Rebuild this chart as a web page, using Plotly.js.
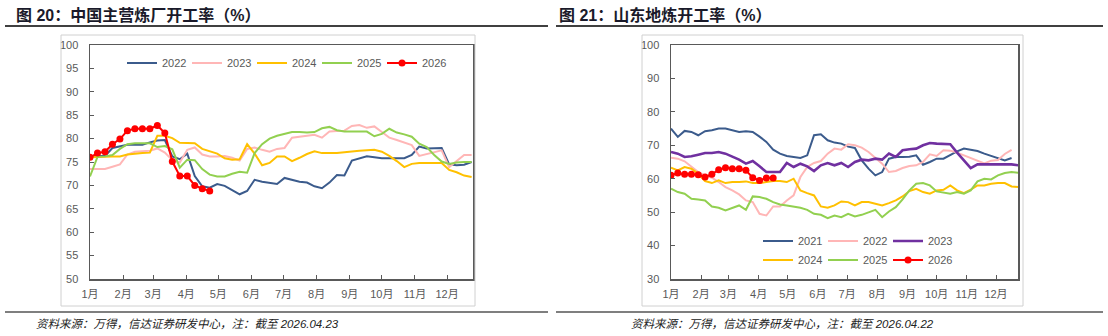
<!DOCTYPE html>
<html>
<head>
<meta charset="utf-8">
<script src="https://cdn.plot.ly/plotly-3.0.1.min.js"></script>
<style>
  html, body { margin: 0; padding: 0; background: #ffffff; }
  #chart { width: 1108px; height: 336px; }
</style>
</head>
<body>
<div id="chart"></div>
<script>
// Month tick positions (day of year) and labels
const monthStartDays = [1, 32, 60, 91, 121, 152, 182, 213, 244, 274, 305, 335];
const monthLabels = ['1月', '2月', '3月', '4月', '5月', '6月', '7月', '8月', '9月', '10月', '11月', '12月'];

// 中国主营炼厂开工率 (%), weekly
const nationalYears = ['2022', '2023', '2024', '2025', '2026'];
const national2022 = [76.3, 76.3, 76.3, 78.0, 78.4, 78.7, 78.7, 78.7, 79.2, 79.6, 79.7, 76.2, 75.6, 76.8, 72.0, 69.8,
  69.5, 70.3, 69.9, 69.0, 68.1, 68.8, 71.2, 70.8, 70.5, 70.3, 71.6, 71.2, 70.8, 70.6, 69.8, 69.4, 70.6, 72.2, 72.1, 75.3,
  75.8, 76.2, 76.0, 75.8, 75.8, 75.8, 75.8, 76.5, 78.3, 77.9, 78.0, 78.0, 74.5, 74.3, 74.4, 75.0];
const national2023 = [73.5, 73.5, 73.5, 74.0, 74.5, 76.6, 77.2, 77.3, 77.4, 77.9, 77.0, 75.4, 74.9, 77.6, 78.1, 76.6,
  76.2, 76.2, 76.3, 75.9, 75.3, 77.8, 78.1, 77.6, 77.2, 77.8, 78.0, 80.2, 80.4, 80.7, 80.8, 80.2, 81.5, 81.6, 81.7, 82.7,
  82.9, 82.3, 82.6, 81.4, 80.2, 79.7, 79.2, 78.6, 76.3, 76.7, 77.2, 77.5, 73.9, 75.2, 76.5, 76.5];
const national2024 = [76.0, 76.0, 76.1, 76.2, 76.2, 76.6, 76.8, 76.9, 77.0, 80.6, 80.6, 80.1, 79.1, 79.0, 79.0, 77.8,
  77.3, 76.8, 75.8, 75.5, 75.6, 78.8, 76.8, 74.3, 74.8, 76.2, 76.2, 75.2, 75.9, 76.7, 77.3, 76.9, 76.9, 76.9, 77.1, 77.3,
  77.4, 77.5, 77.6, 77.2, 76.3, 75.2, 73.9, 74.6, 74.8, 74.8, 74.8, 74.8, 73.3, 72.8, 72.1, 71.8];
const national2025 = [71.9, 76.1, 76.2, 76.5, 77.8, 78.8, 79.0, 79.0, 79.0, 78.2, 78.4, 77.7, 73.8, 75.5, 75.4, 73.5,
  72.3, 71.9, 71.9, 72.5, 72.9, 72.7, 76.9, 78.8, 80.0, 80.6, 81.0, 81.4, 81.4, 81.3, 81.4, 82.2, 82.5, 81.8, 81.5, 81.5,
  81.6, 81.5, 80.5, 81.0, 82.1, 81.3, 80.9, 80.4, 78.9, 78.2, 76.5, 75.1, 74.6, 74.9, 75.0, 75.0];
const national2026 = [76.0, 76.9, 77.2, 78.8, 79.9, 81.7, 82.1, 82.1, 82.1, 82.8, 81.2, 75.1, 72.0, 72.0, 70.0, 69.3, 68.8];

// 山东地炼开工率 (%), weekly
const shandongYears = ['2021', '2022', '2023', '2024', '2025', '2026'];
const shandong2021 = [75.0, 72.5, 74.3, 74.0, 73.0, 74.2, 74.5, 75.0, 75.0, 74.6, 74.0, 74.2, 74.0, 72.6, 71.0, 68.7,
  67.5, 66.8, 66.5, 66.2, 67.0, 73.0, 73.3, 71.5, 70.8, 70.5, 69.6, 69.2, 65.5, 63.0, 61.0, 62.0, 66.0, 66.5, 66.5, 66.6,
  67.0, 64.2, 65.0, 66.0, 66.0, 67.2, 68.2, 69.0, 68.7, 68.3, 67.5, 66.8, 66.2, 65.5, 66.2];
const shandong2022 = [66.3, 66.0, 65.2, 63.5, 62.0, 61.0, 60.3, 59.0, 57.5, 56.5, 55.3, 53.5, 53.0, 49.5, 49.0, 51.7,
  51.7, 53.5, 55.0, 60.5, 63.5, 64.7, 65.3, 67.5, 69.0, 68.7, 70.3, 70.0, 69.3, 68.0, 66.3, 64.5, 62.0, 62.3, 63.2, 63.8,
  64.0, 65.0, 67.3, 66.8, 68.5, 68.4, 67.8, 67.0, 66.2, 65.3, 64.6, 65.4, 65.6, 67.4, 68.6];
const shandong2023 = [68.0, 67.5, 66.5, 66.7, 67.2, 67.7, 67.7, 68.0, 67.5, 66.7, 65.7, 64.5, 65.3, 63.7, 62.0, 62.0,
  62.0, 64.7, 63.5, 64.5, 63.7, 62.3, 64.0, 64.7, 64.0, 64.7, 63.5, 65.0, 65.7, 65.5, 66.0, 65.7, 67.5, 66.5, 68.5, 68.8,
  69.0, 70.0, 70.7, 70.5, 70.5, 70.3, 67.8, 65.5, 63.2, 64.3, 64.3, 64.3, 64.3, 64.3, 64.3, 64.0];
const shandong2024 = [63.3, 62.5, 63.5, 63.0, 61.5, 59.3, 58.7, 59.5, 58.7, 59.0, 59.0, 59.2, 58.7, 58.7, 59.0, 59.3,
  59.3, 59.0, 60.0, 56.5, 55.7, 55.0, 51.7, 51.3, 52.0, 53.2, 53.0, 52.0, 53.0, 53.0, 52.5, 52.0, 52.7, 53.5, 54.7, 56.3,
  57.0, 56.0, 55.5, 56.5, 56.7, 58.0, 56.5, 55.7, 56.7, 58.0, 58.0, 58.5, 58.7, 58.7, 57.7, 57.5];
const shandong2025 = [57.0, 56.0, 55.5, 54.0, 53.8, 53.5, 51.7, 51.3, 50.5, 51.3, 52.0, 50.7, 54.7, 54.5, 54.0, 53.0,
  52.3, 52.0, 51.7, 51.3, 50.7, 49.5, 49.2, 48.2, 49.0, 48.5, 49.5, 48.7, 49.2, 50.0, 50.7, 48.5, 50.2, 51.5, 53.8, 56.5,
  58.5, 58.7, 58.0, 56.2, 55.8, 55.5, 56.0, 55.5, 56.5, 59.2, 60.0, 59.8, 61.0, 61.7, 62.0, 61.8];
const shandong2026 = [61.0, 61.7, 61.3, 61.3, 61.2, 60.5, 61.3, 62.7, 63.3, 63.0, 63.0, 62.5, 60.3, 59.5, 60.2, 60.2];

// Series colours by year
const shandongColors = {
  '2021': '#3B5B8C', '2022': '#FFB6B6', '2023': '#7030A0',
  '2024': '#FFC000', '2025': '#92D050', '2026': '#FF0000'
};
const nationalColors = {
  '2022': '#3B5B8C', '2023': '#FFB6B6', '2024': '#FFC000', '2025': '#92D050', '2026': '#FF0000'
};

// Weekly observations are placed on a day-of-year axis
const weekDay = i => 1 + 7 * i;

const W = 1108, H = 336;
const px = x => x / W;
const py = y => 1 - y / H;

const nationalSeries = [national2022, national2023, national2024, national2025, national2026];
const shandongSeries = [shandong2021, shandong2022, shandong2023, shandong2024, shandong2025, shandong2026];

function lineTrace(name, values, color, xa, ya, legend, wide) {
  const trace = {
    type: 'scatter',
    mode: 'lines',
    name: name,
    x: values.map((_, i) => weekDay(i)),
    y: values,
    xaxis: xa, yaxis: ya, legend: legend,
    line: { color: color, width: wide ? 2.6 : 2 }
  };
  if (name === '2026') {
    trace.mode = 'lines+markers';
    trace.marker = { color: color, size: 7 };
  }
  return trace;
}

const traces = [];
nationalYears.forEach((yr, i) => {
  traces.push(lineTrace(yr, nationalSeries[i], nationalColors[yr], 'x', 'y', 'legend', false));
});
shandongYears.forEach((yr, i) => {
  const lg = i < 3 ? 'legend2' : 'legend3';
  traces.push(lineTrace(yr, shandongSeries[i], shandongColors[yr], 'x2', 'y2', lg, yr === '2023'));
});

const latinCjk = 'Liberation Sans, Noto Sans CJK SC, sans-serif';

const axisCommon = {
  showline: true, mirror: true, linecolor: '#595959', linewidth: 1.5,
  showgrid: false, zeroline: false,
  ticks: 'inside', ticklen: 4, tickcolor: '#595959', tickwidth: 1,
  tickfont: { family: latinCjk, size: 11, color: '#595959' },
  fixedrange: true
};

const legendCommon = {
  orientation: 'h', xanchor: 'left', yanchor: 'middle',
  bgcolor: 'rgba(0,0,0,0)', borderwidth: 0,
  font: { family: latinCjk, size: 11, color: '#595959' },
  entrywidthmode: 'pixels', entrywidth: 20
};

const layout = {
  width: W, height: H,
  margin: { l: 0, r: 0, t: 0, b: 0 },
  paper_bgcolor: '#ffffff', plot_bgcolor: '#ffffff',
  showlegend: true,
  xaxis: Object.assign({}, axisCommon, {
    domain: [px(90), px(473)], range: [1, 359.3], anchor: 'y',
    tickmode: 'array', tickvals: monthStartDays, ticktext: monthLabels, ticklabelstandoff: 4
  }),
  yaxis: Object.assign({}, axisCommon, {
    domain: [py(279), py(45)], range: [50, 100], anchor: 'x',
    tickmode: 'linear', tick0: 50, dtick: 5, ticklabelstandoff: 8
  }),
  xaxis2: Object.assign({}, axisCommon, {
    domain: [px(671), px(1018)], range: [1, 357.6], anchor: 'y2',
    tickmode: 'array', tickvals: monthStartDays, ticktext: monthLabels, ticklabelstandoff: 4
  }),
  yaxis2: Object.assign({}, axisCommon, {
    domain: [py(279), py(45)], range: [30, 100], anchor: 'x2',
    tickmode: 'linear', tick0: 30, dtick: 10, ticklabelstandoff: 8
  }),
  legend: Object.assign({}, legendCommon, { x: px(122), y: py(63) }),
  legend2: Object.assign({}, legendCommon, { x: px(758), y: py(241) }),
  legend3: Object.assign({}, legendCommon, { x: px(758), y: py(260) }),
  shapes: [
    // rules under the titles
    { type: 'line', xref: 'paper', yref: 'paper', x0: px(5), x1: px(548), y0: py(26), y1: py(26), line: { color: '#000000', width: 1.5 } },
    { type: 'line', xref: 'paper', yref: 'paper', x0: px(556), x1: px(1103), y0: py(26), y1: py(26), line: { color: '#000000', width: 1.5 } },
    // rules above the sources
    { type: 'line', xref: 'paper', yref: 'paper', x0: px(5), x1: px(548), y0: py(312), y1: py(312), line: { color: '#000000', width: 1.2 } },
    { type: 'line', xref: 'paper', yref: 'paper', x0: px(556), x1: px(1103), y0: py(312), y1: py(312), line: { color: '#000000', width: 1.2 } },
    // chart frames
    { type: 'rect', xref: 'paper', yref: 'paper', x0: px(61), x1: px(475), y0: py(306), y1: py(35), line: { color: '#D0D0D0', width: 1 } },
    { type: 'rect', xref: 'paper', yref: 'paper', x0: px(642), x1: px(1023), y0: py(306), y1: py(35), line: { color: '#D0D0D0', width: 1 } }
  ],
  annotations: [
    { xref: 'paper', yref: 'paper', x: px(14), y: py(15), xanchor: 'left', yanchor: 'middle', showarrow: false,
      text: '<b>图 20：中国主营炼厂开工率（%）</b>', font: { family: latinCjk, size: 16, color: '#1a1a2a' } },
    { xref: 'paper', yref: 'paper', x: px(557), y: py(15), xanchor: 'left', yanchor: 'middle', showarrow: false,
      text: '<b>图 21：山东地炼开工率（%）</b>', font: { family: latinCjk, size: 16, color: '#1a1a2a' } },
    { xref: 'paper', yref: 'paper', x: px(34), y: py(324), xanchor: 'left', yanchor: 'middle', showarrow: false,
      text: '<i>资料来源：万得，信达证券研发中心，注：截至 2026.04.23</i>', font: { family: latinCjk, size: 11.5, color: '#222222' } },
    { xref: 'paper', yref: 'paper', x: px(629), y: py(324), xanchor: 'left', yanchor: 'middle', showarrow: false,
      text: '<i>资料来源：万得，信达证券研发中心，注：截至 2026.04.22</i>', font: { family: latinCjk, size: 11.5, color: '#222222' } }
  ]
};

Plotly.newPlot('chart', traces, layout, { displayModeBar: false, staticPlot: true });
</script>
</body>
</html>
